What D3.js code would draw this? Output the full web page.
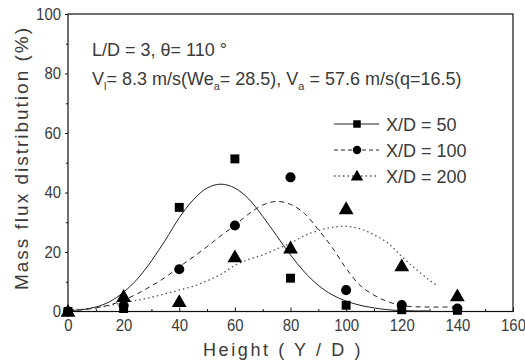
<!DOCTYPE html>
<html>
<head>
<meta charset="utf-8">
<script src="https://cdn.jsdelivr.net/npm/d3@7"></script>
<style>
  html, body { margin: 0; padding: 0; background: #fff; }
  svg { display: block; }
</style>
</head>
<body>
<svg id="chart" width="525" height="364"></svg>
<script>
// ---------- data ----------
const xTicks = [0, 20, 40, 60, 80, 100, 120, 140, 160];
const yTicks = [0, 20, 40, 60, 80, 100];
const xMinor = [10, 30, 50, 70, 90, 110, 130, 150];
const yMinor = [10, 30, 50, 70, 90];

const heights = [0, 20, 40, 60, 80, 100, 120, 140];
const flux50  = [0, 1, 35, 51.3, 11.2, 2.1, 0.6, 0.4];
const flux100 = [0, 2, 14.2, 28.9, 45.1, 7.2, 2.2, 1];
const flux200 = [0, 5, 3.3, 18.3, 21.3, 34.5, 15.3, 5.2];

// fitted curves
const fit50X = [0, 5, 10, 15, 20, 25, 30, 35, 40, 45, 50, 55, 60, 65, 70, 75, 80, 85, 90, 95, 100, 105, 110, 115, 120, 125, 130];
const fit50Y = [0.3, 0.6, 1.5, 3.3, 6.5, 11, 17, 24, 31.5, 37.5, 41.5, 42.8, 41.5, 37.8, 32, 25.5, 19, 13.3, 8.8, 5.6, 3.5, 2.1, 1.2, 0.6, 0.3, 0.2, 0.2];
const fit100X = [0, 5, 10, 15, 20, 25, 30, 35, 40, 45, 50, 55, 60, 65, 70, 75, 80, 85, 90, 95, 100, 105, 110, 115, 120, 125, 130, 135, 140];
const fit100Y = [0.3, 0.6, 1.2, 2.2, 3.8, 6, 8.6, 11.5, 15, 18.3, 21.8, 25.5, 29, 32.8, 35.8, 37, 36, 33, 27.5, 21.5, 14.5, 8.8, 5.5, 3.3, 2, 1.6, 1.5, 1.5, 1.5];
const fit200X = [0, 5, 10, 15, 20, 25, 30, 35, 40, 45, 50, 55, 60, 65, 70, 75, 80, 85, 90, 95, 100, 105, 110, 115, 120, 125, 130, 133];
const fit200Y = [0.5, 0.8, 1.3, 2, 3, 3.8, 4.8, 6, 7.2, 8.5, 10.3, 12.5, 15.5, 17.5, 19, 21, 23, 25.5, 27.2, 28.3, 28.6, 27.8, 25.8, 23, 18.5, 14.3, 10.5, 8.5];

const seriesNames = ["X/D = 50", "X/D = 100", "X/D = 200"];
const annot1 = "L/D = 3, \u03B8= 110 \u00B0";
const xTitle = "Height ( Y / D )";
const yTitle = "Mass flux distribution (%)";

// ---------- drawing ----------
const svg = d3.select("#chart");
const x = d3.scaleLinear().domain([0, 160]).range([68, 513]);
const y = d3.scaleLinear().domain([0, 100]).range([311.5, 14]);

const ink = "#111";
const textCol = "#3a3a3a";
const mainFont = "Arial, 'Liberation Sans', sans-serif";

// frame
svg.append("rect")
  .attr("x", x(0)).attr("y", y(100))
  .attr("width", x(160) - x(0)).attr("height", y(0) - y(100))
  .attr("fill", "none").attr("stroke", ink).attr("stroke-width", 1.2);

function narrow(sel) {
  sel.attr("font-family", mainFont).attr("font-size", 17).attr("fill", textCol)
    .attr("lengthAdjust", "spacingAndGlyphs")
    .attr("textLength", function () { return this.textContent.length * 8.3; });
}

// x axis
const xAxis = d3.axisBottom(x).tickValues(xTicks).tickSize(-4).tickPadding(7).tickFormat(d3.format("d"));
const gx = svg.append("g").attr("transform", `translate(0,${y(0)})`).call(xAxis);
gx.select(".domain").remove();
gx.selectAll(".tick line").attr("stroke", ink);
gx.selectAll(".tick text").call(narrow);
const gxm = svg.append("g").attr("transform", `translate(0,${y(0)})`)
  .call(d3.axisBottom(x).tickValues(xMinor).tickSize(-2.5).tickFormat(""));
gxm.select(".domain").remove();
gxm.selectAll(".tick line").attr("stroke", ink);

// y axis
const yAxis = d3.axisLeft(y).tickValues(yTicks).tickSize(3).tickPadding(4).tickFormat(d3.format("d"));
const gy = svg.append("g").attr("transform", `translate(${x(0)},0)`).call(yAxis);
gy.select(".domain").remove();
gy.selectAll(".tick line").attr("stroke", ink);
gy.selectAll(".tick text").call(narrow);
const gym = svg.append("g").attr("transform", `translate(${x(0)},0)`)
  .call(d3.axisLeft(y).tickValues(yMinor).tickSize(2).tickFormat(""));
gym.select(".domain").remove();
gym.selectAll(".tick line").attr("stroke", ink);

// axis titles
svg.append("text")
  .attr("x", 283).attr("y", 356)
  .attr("text-anchor", "middle")
  .attr("font-family", mainFont).attr("font-size", 18)
  .attr("letter-spacing", 2.6)
  .attr("fill", textCol)
  .text(xTitle);
svg.append("text")
  .attr("transform", `translate(28,${159}) rotate(-90)`)
  .attr("text-anchor", "middle")
  .attr("font-family", mainFont).attr("font-size", 19)
  .attr("textLength", 262).attr("lengthAdjust", "spacing")
  .attr("fill", textCol)
  .text(yTitle);

// annotations
svg.append("text")
  .attr("x", 92).attr("y", 56)
  .attr("font-family", mainFont).attr("font-size", 18).attr("fill", textCol)
  .text(annot1);
const a2 = svg.append("text")
  .attr("x", 92).attr("y", 85)
  .attr("font-family", mainFont).attr("font-size", 18).attr("fill", textCol);
const parts = [
  ["V", 0], ["l", 1], ["= 8.3 m/s(We", 0], ["a", 1], ["= 28.5), V", 0], ["a", 1], [" = 57.6 m/s(q=16.5)", 0]
];
let prevSub = 0;
parts.forEach(([t, sub]) => {
  const dy = (sub - prevSub) * 5;
  a2.append("tspan").attr("dy", dy).attr("font-size", sub ? 11 : 18).text(t);
  prevSub = sub;
});

// fitted curves
const line = d3.line().x(d => x(d[0])).y(d => y(d[1])).curve(d3.curveCatmullRom);
const curves = [
  { xs: fit50X, ys: fit50Y, dash: null, color: "#222", w: 1 },
  { xs: fit100X, ys: fit100Y, dash: "5,4", color: "#222", w: 1 },
  { xs: fit200X, ys: fit200Y, dash: "1.5,3", color: "#555", w: 1.3 }
];
curves.forEach(c => {
  const pts = c.xs.map((v, i) => [v, c.ys[i]]);
  svg.append("path").datum(pts)
    .attr("d", line).attr("fill", "none")
    .attr("stroke", c.color).attr("stroke-width", c.w)
    .attr("stroke-dasharray", c.dash);
});

// markers
const sym = [d3.symbolSquare, d3.symbolCircle, d3.symbolTriangle];
const symSize = [80, 80, 95];
const data = [flux50, flux100, flux200];
data.forEach((vals, s) => {
  svg.append("g").selectAll("path")
    .data(heights.map((h, i) => [h, vals[i]]))
    .join("path")
    .attr("transform", d => `translate(${x(d[0])},${y(d[1]) + (s === 2 ? 1 : 0)})`)
    .attr("d", d3.symbol().type(sym[s]).size(symSize[s]))
    .attr("fill", "#000");
});

// legend
const legY = [124, 150, 176];
const legDash = [null, "4,3", "1.5,3"];
seriesNames.forEach((name, i) => {
  const g = svg.append("g");
  g.append("line")
    .attr("x1", 334).attr("x2", 379)
    .attr("y1", legY[i]).attr("y2", legY[i])
    .attr("stroke", i === 2 ? "#555" : "#222").attr("stroke-width", i === 2 ? 1.3 : 1)
    .attr("stroke-dasharray", legDash[i]);
  g.append("path")
    .attr("transform", `translate(357,${legY[i] + (i === 2 ? 1 : 0)})`)
    .attr("d", d3.symbol().type(sym[i]).size(symSize[i] * 0.7))
    .attr("fill", "#000");
  g.append("text")
    .attr("x", 386).attr("y", legY[i] + 6.5)
    .attr("font-family", mainFont).attr("font-size", 18).attr("fill", textCol)
    .text(name);
});
</script>
</body>
</html>
